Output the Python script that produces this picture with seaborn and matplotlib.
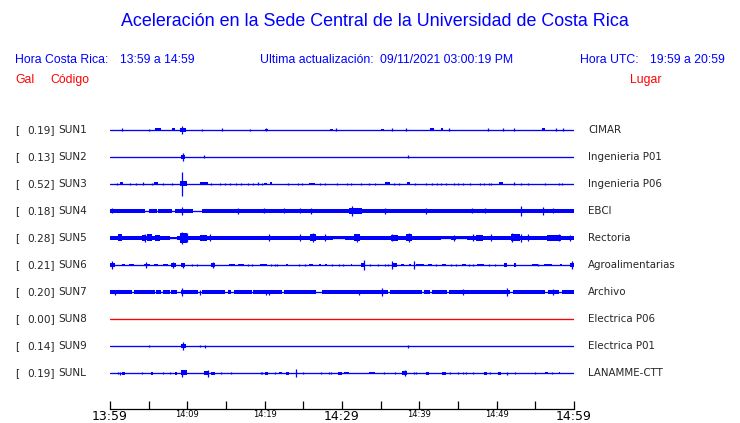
import numpy as np
import pandas as pd
import matplotlib
matplotlib.use("Agg")
import matplotlib.pyplot as plt
import matplotlib.transforms as mtransforms
import seaborn as sns

# --- data ------------------------------------------------------------------
CODES = ["SUN1", "SUN2", "SUN3", "SUN4", "SUN5", "SUN6", "SUN7", "SUN8", "SUN9", "SUNL"]
PLACES = ["CIMAR", "Ingenieria P01", "Ingenieria P06", "EBCI", "Rectoria",
          "Agroalimentarias", "Archivo", "Electrica P06", "Electrica P01", "LANAMME-CTT"]
PEAK_GAL = [0.19, 0.13, 0.52, 0.18, 0.28, 0.21, 0.20, 0.00, 0.14, 0.19]

TICK_MIN = list(range(0, 61, 5))
TICK_LABELS = ["13:59", "", "14:09", "", "14:19", "", "14:29", "", "14:39", "", "14:49", "", "14:59"]
BIG_TICKS = ["13:59", "14:29", "14:59"]

# (start minute, end minute, half amplitude) bursts and (minute, half amplitude) spikes
SUN1_BURSTS = [(5.8, 6.6, 1.5), (8.0, 8.4, 1.5), (9.0, 9.8, 1.7), (20.0, 20.4, 1.2),
               (28.5, 28.9, 1.3), (35.0, 35.4, 1.3), (41.4, 41.9, 1.5), (42.8, 43.1, 1.5),
               (55.9, 56.3, 1.5)]
SUN1_SPIKES = [(1.6, 1.5), (5.0, 1.0), (11.9, 1.0), (14.5, 1.5), (18.1, 1.0), (20.2, 1.5),
               (29.2, 1.5), (36.5, 1.5), (38.3, 1.5), (43.8, 1.5), (48.9, 1.5), (50.8, 1.5),
               (52.2, 1.5), (57.7, 1.5), (58.6, 1.5), (9.35, 4.0)]

SUN2_BURSTS = [(9.2, 9.7, 1.7)]
SUN2_SPIKES = [(9.4, 4.0), (12.1, 1.5), (38.5, 1.5)]

SUN3_BURSTS = [(1.3, 1.7, 1.5), (5.7, 6.2, 1.5), (9.1, 9.9, 2.5), (11.6, 12.7, 1.5),
               (19.9, 20.3, 1.3), (20.7, 21.0, 1.5), (25.7, 26.5, 1.3), (35.6, 36.2, 1.5),
               (38.4, 38.8, 1.5), (50.3, 50.8, 1.5)]
SUN3_SPIKES = [(0.9, 1.3), (2.6, 1.3), (3.4, 1.3), (4.3, 1.5), (5.4, 1.3), (6.9, 1.3),
               (8.0, 1.3), (13.1, 1.3), (14.2, 1.3), (14.9, 1.3), (15.5, 1.3), (16.3, 1.3),
               (17.0, 1.3), (17.9, 1.3), (18.5, 1.3), (19.2, 1.5), (19.6, 1.3), (23.0, 1.3),
               (24.3, 1.3), (24.8, 1.3), (27.1, 1.3), (27.8, 1.3), (29.4, 1.3), (30.7, 1.3),
               (31.2, 1.3), (32.5, 1.3), (33.5, 1.3), (34.3, 1.3), (36.7, 1.3), (37.4, 1.3),
               (39.5, 1.3), (40.8, 1.3), (41.6, 1.3), (42.3, 1.3), (42.8, 1.3), (43.5, 1.3),
               (44.5, 1.3), (45.0, 1.3), (45.7, 1.3), (46.5, 1.3), (47.9, 1.3), (48.4, 1.3),
               (49.0, 1.3), (49.3, 1.3), (52.2, 1.5), (53.1, 1.3), (54.1, 1.3), (56.3, 1.3),
               (58.0, 1.3), (58.4, 1.3), (9.35, 12.0)]

SUN4_BURSTS = [(0.0, 4.5, 2.0), (5.0, 6.1, 2.0), (6.2, 8.0, 2.0), (8.4, 10.7, 2.0),
               (11.9, 60.0, 2.0), (30.9, 32.6, 3.0)]
SUN4_SPIKES = [(0.2, 2.5), (9.35, 4.0), (16.5, 3.0), (19.9, 2.5), (22.5, 2.5), (24.6, 2.5),
               (26.0, 3.0), (31.3, 5.0), (35.6, 3.0), (40.9, 3.0), (46.8, 2.5), (48.5, 2.5),
               (53.1, 5.0), (56.0, 4.0), (57.3, 2.5)]

SUN5_BURSTS = [(0.0, 7.8, 2.3), (7.8, 8.7, 1.3), (8.7, 28.9, 2.3), (28.9, 30.4, 1.5),
               (30.4, 42.8, 2.3), (42.8, 44.1, 1.5), (44.1, 44.8, 2.3), (44.8, 46.1, 1.5),
               (46.1, 60.0, 2.3), (1.0, 1.6, 3.5), (4.2, 4.5, 3.0), (4.8, 5.4, 3.5),
               (5.8, 6.5, 3.0), (9.1, 9.9, 5.0), (11.6, 12.5, 3.0), (25.8, 26.6, 3.5),
               (31.5, 32.3, 3.5), (36.3, 37.2, 3.0), (38.3, 39.0, 3.5), (47.3, 48.2, 3.0),
               (51.8, 53.0, 3.5), (56.5, 58.3, 3.0)]
SUN5_SPIKES = [(4.5, 4.0), (9.35, 6.0), (10.0, 4.5), (12.9, 3.5), (20.5, 3.5), (24.6, 3.5),
               (26.2, 4.5), (27.8, 3.5), (32.0, 4.0), (36.5, 3.5), (38.6, 4.5), (44.5, 3.0),
               (46.9, 3.5), (49.3, 3.5), (52.0, 4.5), (53.1, 4.0), (54.1, 3.5), (58.1, 3.5),
               (59.5, 3.0)]

SUN6_BURSTS = [(0.0, 0.6, 2.2), (1.5, 2.0, 1.4), (2.4, 3.1, 1.4), (4.4, 5.2, 1.4),
               (5.7, 6.2, 1.4), (6.9, 7.5, 1.4), (7.9, 8.5, 1.6), (9.2, 9.7, 2.0),
               (13.1, 13.6, 1.6), (15.4, 16.1, 1.4), (16.5, 17.3, 1.4), (19.4, 20.3, 1.4),
               (22.7, 23.0, 1.4), (25.7, 26.2, 1.4), (27.0, 27.3, 1.4), (27.8, 28.1, 1.4),
               (31.1, 31.3, 1.4), (32.4, 33.0, 1.6), (36.6, 37.1, 1.6), (37.6, 38.0, 1.4),
               (38.6, 38.9, 1.4), (39.6, 40.6, 1.4), (41.1, 41.7, 1.4), (42.9, 43.4, 1.4),
               (45.5, 46.0, 1.4), (47.5, 48.3, 1.4), (50.9, 51.3, 2.0), (52.2, 52.5, 1.6),
               (54.6, 55.3, 1.4), (56.1, 57.1, 1.4), (58.2, 58.5, 1.4), (59.5, 60.0, 1.6)]
SUN6_SPIKES = [(0.2, 3.5), (4.6, 3.0), (8.1, 3.0), (9.4, 2.5), (10.6, 1.4), (11.3, 1.4),
               (13.3, 3.0), (17.9, 1.4), (18.3, 1.4), (20.8, 1.4), (21.3, 1.4), (21.6, 1.4),
               (24.5, 1.4), (25.2, 1.4), (28.7, 1.4), (29.6, 1.4), (30.1, 1.4), (32.8, 5.0),
               (33.6, 1.4), (34.6, 1.4), (35.5, 1.4), (35.9, 1.4), (36.5, 4.0), (39.3, 4.0),
               (42.2, 1.4), (44.1, 1.4), (44.7, 1.4), (46.4, 1.4), (47.0, 1.4), (49.0, 1.4),
               (49.8, 1.4), (55.4, 1.4), (59.7, 4.0)]

SUN7_BURSTS = [(0.0, 2.8, 2.0), (3.1, 5.8, 2.0), (6.0, 6.6, 2.0), (6.9, 7.7, 2.0),
               (7.9, 8.6, 2.0), (9.2, 11.4, 2.0), (11.9, 14.9, 2.0), (15.3, 15.7, 2.0),
               (16.0, 18.3, 2.0), (18.5, 22.2, 2.0), (22.5, 26.7, 2.0), (27.4, 35.9, 2.0),
               (36.2, 40.4, 2.0), (40.6, 41.4, 2.0), (41.6, 43.6, 2.0), (43.9, 51.7, 2.0),
               (52.1, 56.2, 2.0), (56.7, 58.0, 2.0), (58.4, 60.0, 2.0)]
SUN7_SPIKES = [(0.7, 2.5), (9.35, 4.0), (11.7, 2.5), (20.2, 2.5), (20.6, 2.5), (32.2, 2.5),
               (35.2, 4.0), (45.7, 3.0), (51.3, 4.0), (57.3, 3.0)]

SUN8_BURSTS = []
SUN8_SPIKES = []

SUN9_BURSTS = [(9.2, 9.8, 2.0)]
SUN9_SPIKES = [(5.1, 1.0), (9.4, 4.0), (11.6, 1.0), (12.3, 1.5), (38.5, 1.5)]

SUNL_BURSTS = [(1.6, 1.9, 1.5), (5.3, 5.6, 1.5), (8.4, 8.7, 1.5), (9.2, 9.9, 2.5),
               (12.2, 12.8, 2.0), (13.1, 13.6, 1.5), (20.1, 20.4, 1.5), (21.9, 22.3, 1.3),
               (22.8, 23.1, 1.5), (29.5, 30.0, 1.5), (30.3, 30.9, 1.3), (33.5, 34.3, 1.3),
               (37.8, 38.4, 2.0), (40.8, 41.3, 1.5), (42.9, 43.5, 1.5), (48.4, 48.8, 1.5),
               (50.2, 50.5, 1.5), (56.3, 56.7, 1.3), (58.0, 58.2, 1.3)]
SUNL_SPIKES = [(1.0, 1.3), (1.3, 1.5), (4.1, 1.3), (6.8, 1.3), (7.7, 1.3), (9.35, 3.5),
               (12.7, 3.5), (14.4, 1.3), (15.7, 1.3), (19.5, 1.3), (19.7, 1.3), (21.4, 1.3),
               (24.1, 4.0), (25.0, 1.3), (27.3, 1.3), (28.3, 1.3), (28.6, 1.3), (35.4, 1.3),
               (36.8, 1.3), (38.1, 3.0), (39.3, 1.3), (39.6, 1.3), (44.0, 1.3), (45.0, 1.3),
               (45.6, 1.3), (46.0, 1.3), (46.9, 1.3), (49.2, 1.3), (51.3, 1.5), (52.4, 1.3),
               (55.0, 1.3), (57.2, 1.3)]

BURSTS = [SUN1_BURSTS, SUN2_BURSTS, SUN3_BURSTS, SUN4_BURSTS, SUN5_BURSTS,
          SUN6_BURSTS, SUN7_BURSTS, SUN8_BURSTS, SUN9_BURSTS, SUNL_BURSTS]
SPIKES = [SUN1_SPIKES, SUN2_SPIKES, SUN3_SPIKES, SUN4_SPIKES, SUN5_SPIKES,
          SUN6_SPIKES, SUN7_SPIKES, SUN8_SPIKES, SUN9_SPIKES, SUNL_SPIKES]

# --- style ------------------------------------------------------------------
W, H = 740, 423
ROW_PX = 27.0            # pixel spacing between traces in the reference
BLUE, RED = "#0000ff", "#ff0000"

sns.set_style("white")
plt.rcParams["font.family"] = ["DejaVu Sans"]


def fpos(x, y):
    return x / W, 1 - y / H


fig = plt.figure(figsize=(W / 100, H / 100), dpi=100)
# plot area: 13:59 at x=110, 14:59 at x=574, first trace at y=130, axis at y=409
top_rows = (130 - 110) / ROW_PX
bot_rows = (409 - 130) / ROW_PX
ax = fig.add_axes([110 / W, (H - 409) / H, 464 / W, (409 - 110) / H])

colors = [RED if g == 0 else BLUE for g in PEAK_GAL]

# baselines through seaborn
base = pd.DataFrame({
    "code": np.repeat(CODES, 2),
    "minute": [0, 60] * len(CODES),
    "row": np.repeat(np.arange(len(CODES)), 2),
})
sns.lineplot(data=base, x="minute", y="row", hue="code", palette=dict(zip(CODES, colors)),
             linewidth=0.95, legend=False, ax=ax)

for i, (bursts, spikes) in enumerate(zip(BURSTS, SPIKES)):
    c = colors[i]
    if bursts:
        b = np.array(bursts)
        ax.bar(b[:, 0], 2 * b[:, 2] / ROW_PX, width=b[:, 1] - b[:, 0],
               bottom=i - b[:, 2] / ROW_PX, align="edge", color=c, linewidth=0)
    if spikes:
        s = np.array(spikes)
        ax.vlines(s[:, 0], i - s[:, 1] / ROW_PX, i + s[:, 1] / ROW_PX, color=c, linewidth=0.9)

ax.set_xlim(0, 60)
ax.set_ylim(bot_rows, -top_rows)
ax.set_xlabel("")
ax.set_ylabel("")
ax.set_yticks([])
for side in ["top", "left", "right"]:
    ax.spines[side].set_visible(False)
ax.spines["bottom"].set_color("black")
ax.spines["bottom"].set_linewidth(0.9)
ax.set_xticks(TICK_MIN)
ax.set_xticklabels(TICK_LABELS)
ax.tick_params(axis="x", direction="in", length=6, width=0.9, color="black", pad=0.5,
               bottom=True)
for lab in ax.get_xticklabels():
    lab.set_fontsize(9 if lab.get_text() in BIG_TICKS else 6)
    lab.set_color("black")

# station labels
trans = mtransforms.blended_transform_factory(fig.transFigure, ax.transData)
for i, (code, place, g) in enumerate(zip(CODES, PLACES, PEAK_GAL)):
    ax.text(15 / W, i, "[", transform=trans, fontsize=7.6, va="center", ha="left")
    ax.text(55 / W, i, f"{g:.2f}]", transform=trans, fontsize=7.6, va="center", ha="right")
    ax.text(58.5 / W, i, code, transform=trans, fontsize=7.6, va="center", ha="left")
    ax.text(588 / W, i, place, transform=trans, fontsize=7.4, va="center", ha="left")

# header
hdr = dict(family=["Liberation Sans", "DejaVu Sans"], va="center")
fig.text(*fpos(375, 22), "Aceleración en la Sede Central de la Universidad de Costa Rica",
         color=BLUE, fontsize=12.9, ha="center", **hdr)
fig.text(*fpos(15, 60), "Hora Costa Rica:", color=BLUE, fontsize=8.8, ha="left", **hdr)
fig.text(*fpos(120, 60), "13:59 a 14:59", color=BLUE, fontsize=8.8, ha="left", **hdr)
fig.text(*fpos(260, 60), "Ultima actualización:", color=BLUE, fontsize=8.8, ha="left", **hdr)
fig.text(*fpos(380, 60), "09/11/2021 03:00:19 PM", color=BLUE, fontsize=8.8, ha="left", **hdr)
fig.text(*fpos(580, 60), "Hora UTC:", color=BLUE, fontsize=8.8, ha="left", **hdr)
fig.text(*fpos(650, 60), "19:59 a 20:59", color=BLUE, fontsize=8.8, ha="left", **hdr)
fig.text(*fpos(15, 80), "Gal", color=RED, fontsize=8.8, ha="left", **hdr)
fig.text(*fpos(50, 80), "Código", color=RED, fontsize=8.8, ha="left", **hdr)
fig.text(*fpos(630, 80), "Lugar", color=RED, fontsize=8.8, ha="left", **hdr)

fig.savefig("out.png", dpi=100)
plt.close(fig)
